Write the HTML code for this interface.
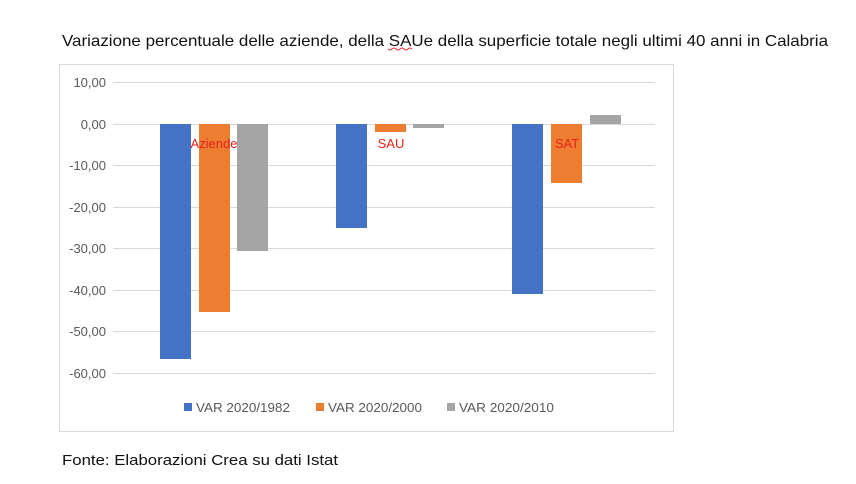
<!DOCTYPE html>
<html><head><meta charset="utf-8"><style>body{margin:0;background:#fff}svg{display:block}</style></head>
<body>
<svg width="856" height="484" xmlns="http://www.w3.org/2000/svg" font-family="Liberation Sans, sans-serif">
<rect width="856" height="484" fill="#fff"/>
<text x="62" y="46" font-size="16" fill="#111" textLength="766" lengthAdjust="spacingAndGlyphs">Variazione percentuale delle aziende, della SAUe della superficie totale negli ultimi 40 anni in Calabria</text>
<path d="M388 49 q2 2 4 0 q2 -2 4 0 q2 2 4 0 q2 -2 4 0 q2 2 4 0 q2 -2 4 0" stroke="#d33" stroke-width="1" fill="none"/>
<rect x="59.5" y="64.5" width="614" height="367" fill="#fff" stroke="#d9d9d9"/>
<g stroke="#d9d9d9" stroke-width="1">
<line x1="113" x2="655" y1="82.5" y2="82.5"/><line x1="113" x2="655" y1="124.5" y2="124.5"/>
<line x1="113" x2="655" y1="165.5" y2="165.5"/><line x1="113" x2="655" y1="207.5" y2="207.5"/>
<line x1="113" x2="655" y1="248.5" y2="248.5"/><line x1="113" x2="655" y1="290.5" y2="290.5"/>
<line x1="113" x2="655" y1="331.5" y2="331.5"/><line x1="113" x2="655" y1="373.5" y2="373.5"/>
</g>
<g font-size="13" fill="#595959" text-anchor="end">
<text x="106" y="87">10,00</text><text x="106" y="129">0,00</text><text x="106" y="170">-10,00</text>
<text x="106" y="212">-20,00</text><text x="106" y="253">-30,00</text><text x="106" y="295">-40,00</text>
<text x="106" y="336">-50,00</text><text x="106" y="378">-60,00</text>
</g>
<rect x="160" y="124" width="31" height="235" fill="#4472c4"/>
<rect x="199" y="124" width="31" height="188" fill="#ed7d31"/>
<rect x="237" y="124" width="31" height="127" fill="#a5a5a5"/>
<rect x="336" y="124" width="31" height="104" fill="#4472c4"/>
<rect x="375" y="124" width="31" height="8" fill="#ed7d31"/>
<rect x="413" y="124" width="31" height="4" fill="#a5a5a5"/>
<rect x="512" y="124" width="31" height="170" fill="#4472c4"/>
<rect x="551" y="124" width="31" height="59" fill="#ed7d31"/>
<rect x="590" y="115" width="31" height="9" fill="#a5a5a5"/>
<g font-size="13" fill="#e8221a" text-anchor="middle">
<text x="214" y="148">Aziende</text><text x="391" y="148">SAU</text><text x="567" y="148">SAT</text>
</g>
<rect x="184" y="403" width="8" height="8" fill="#4472c4"/>
<rect x="316" y="403" width="8" height="8" fill="#ed7d31"/>
<rect x="447" y="403" width="8" height="8" fill="#a5a5a5"/>
<g font-size="13" fill="#595959">
<text x="196" y="412" textLength="94" lengthAdjust="spacingAndGlyphs">VAR 2020/1982</text><text x="328" y="412" textLength="94" lengthAdjust="spacingAndGlyphs">VAR 2020/2000</text><text x="459" y="412" textLength="95" lengthAdjust="spacingAndGlyphs">VAR 2020/2010</text>
</g>
<text x="62" y="465" font-size="15" fill="#111" textLength="276" lengthAdjust="spacingAndGlyphs">Fonte: Elaborazioni Crea su dati Istat</text>
</svg>
</body></html>
